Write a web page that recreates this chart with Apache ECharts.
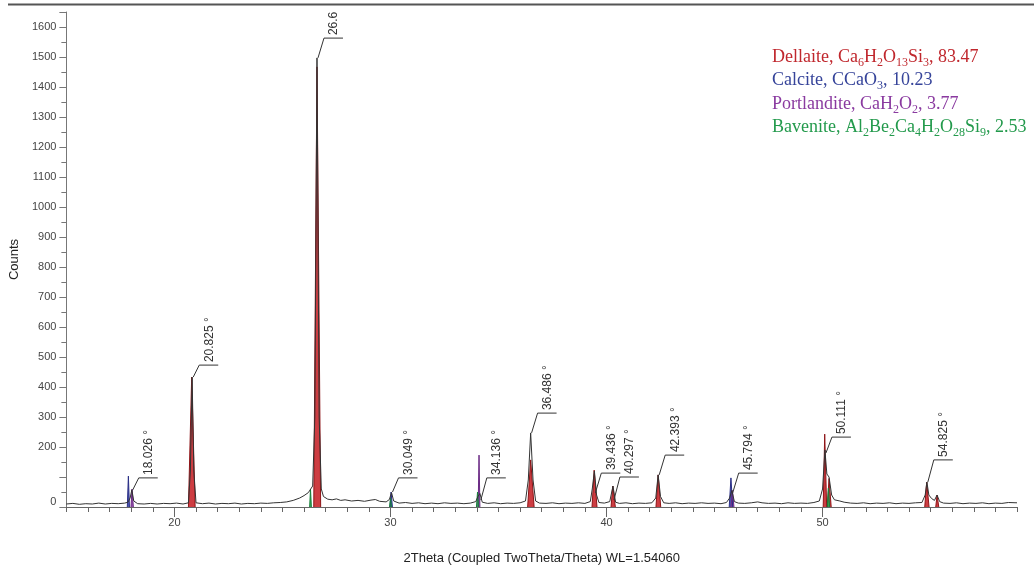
<!DOCTYPE html>
<html>
<head>
<meta charset="utf-8">
<script src="https://cdn.jsdelivr.net/npm/echarts@6/dist/echarts.min.js"></script>
<style>html,body{margin:0;padding:0;background:#fff}#c{width:1034px;height:571px}</style>
</head>
<body>
<div id="c"></div>
<script>
// ---- data ----
const xTickLabels = [20, 30, 40, 50];
const yHiddenLabels = [100];

// measured diffraction profile [2theta, counts]
const profile = [
[15.0,10],[15.3,12],[15.6,9],[15.9,11],[16.2,10],[16.5,13],[16.8,10],[17.1,12],[17.4,11],[17.7,13],[17.85,16],[17.95,30],[18.03,57],[18.12,20],[18.3,11],[18.6,10],[18.9,12],[19.2,10],[19.5,12],[19.8,11],[20.1,13],[20.4,10],[20.65,14],[20.74,120],[20.82,433],[20.9,120],[21.0,14],[21.3,11],[21.6,13],[21.9,10],[22.2,12],[22.5,11],[22.8,13],[23.1,10],[23.4,12],[23.7,11],[24.0,13],[24.3,12],[24.6,14],[24.9,15],[25.2,17],[25.5,22],[25.8,30],[26.0,38],[26.2,48],[26.4,70],[26.5,300],[26.6,1497],[26.7,300],[26.8,60],[26.9,35],[27.1,26],[27.3,24],[27.5,27],[27.7,22],[27.9,24],[28.2,20],[28.5,22],[28.8,19],[29.1,23],[29.3,25],[29.5,19],[29.8,17],[29.95,25],[30.05,48],[30.15,20],[30.4,13],[30.7,15],[31.0,12],[31.3,14],[31.6,11],[31.9,13],[32.2,11],[32.5,14],[32.8,12],[33.1,13],[33.4,11],[33.7,13],[33.95,18],[34.05,35],[34.14,45],[34.25,16],[34.5,12],[34.8,14],[35.1,11],[35.4,13],[35.7,12],[36.0,14],[36.25,20],[36.38,90],[36.49,247],[36.6,90],[36.72,20],[36.9,13],[37.2,12],[37.5,14],[37.8,11],[38.1,13],[38.4,12],[38.7,14],[39.0,12],[39.25,18],[39.34,60],[39.44,120],[39.54,40],[39.65,15],[39.9,13],[40.15,18],[40.3,70],[40.42,16],[40.6,12],[40.9,14],[41.2,11],[41.5,13],[41.8,12],[42.1,14],[42.28,30],[42.39,107],[42.5,35],[42.65,14],[42.9,12],[43.2,14],[43.5,11],[43.8,13],[44.1,12],[44.4,14],[44.7,12],[45.0,13],[45.3,11],[45.55,15],[45.7,30],[45.8,55],[45.92,18],[46.1,13],[46.4,12],[46.7,14],[47.0,17],[47.2,14],[47.5,12],[47.8,13],[48.1,11],[48.4,14],[48.7,12],[49.0,13],[49.3,12],[49.6,15],[49.85,20],[50.0,60],[50.11,190],[50.2,110],[50.3,100],[50.42,40],[50.55,24],[50.8,20],[51.0,16],[51.3,13],[51.6,12],[51.9,14],[52.2,11],[52.5,13],[52.8,12],[53.1,14],[53.4,11],[53.7,13],[54.0,12],[54.3,14],[54.6,15],[54.75,40],[54.83,83],[54.92,40],[55.05,28],[55.18,22],[55.3,40],[55.42,18],[55.6,13],[55.9,12],[56.2,14],[56.5,11],[56.8,13],[57.1,12],[57.4,14],[57.7,11],[58.0,13],[58.3,12],[58.6,15],[59.0,14]
];

// phase peaks: [left 2theta, apex 2theta, right 2theta, apex counts]
const dellaitePeaks = [
[20.65,20.80,20.96,433],[26.45,26.60,26.77,1467],[36.35,36.49,36.65,157],[39.33,39.43,39.56,123],
[40.21,40.29,40.41,70],[42.29,42.39,42.51,107],[50.03,50.10,50.19,243],[50.22,50.30,50.40,95],
[54.73,54.82,54.93,83],[55.24,55.30,55.38,40]
];
const calcitePeaks = [[17.82,17.87,17.92,103],[29.98,30.03,30.09,50],[45.68,45.76,45.84,97]];
const portlanditePeaks = [[17.99,18.04,18.10,60],[34.06,34.10,34.14,173],[45.76,45.83,45.90,55]];
const bavenitePeaks = [[26.26,26.30,26.34,60],[29.96,30.00,30.05,30],[33.98,34.03,34.08,50],[50.22,50.27,50.33,63]];

// peak annotations
const annoAngle = [18.026,20.825,26.6,30.049,34.136,36.486,39.436,40.297,42.393,45.794,50.111,54.825];
const annoText  = ['18.026 °','20.825 °','26.6','30.049 °','34.136 °','36.486 °','39.436 °','40.297 °','42.393 °','45.794 °','50.111 °','54.825 °'];
const annoFrom  = [57,433,1497,50,23,247,47,23,107,47,180,83];
const annoTo    = [97,473,1563,97,97,313,113,100,173,113,233,157];

// legend (phase, formula parts, percentage)
const phaseNames = ['Dellaite','Calcite','Portlandite','Bavenite'];
const phaseFormula = [
  [['Ca','6'],['H','2'],['O','13'],['Si','3']],
  [['CCaO','3']],
  [['CaH','2'],['O','2']],
  [['Al','2'],['Be','2'],['Ca','4'],['H','2'],['O','28'],['Si','9']]
];
const phasePct = ['83.47','10.23','3.77','2.53'];

// ---- build ----
const phaseColors = ['#c8282e','#3a44a6','#8c3fa3','#27a04e'];
const phaseEdge = ['#8e1518','#2a2f86','#6a2a84','#17803a'];
const legendColors = ['#c0272d','#36449a','#8a3aa0','#239a4c'];
const phasePeaks = [dellaitePeaks, calcitePeaks, portlanditePeaks, bavenitePeaks];

function peakData(peaks){
  const d = [];
  peaks.forEach(p => { d.push([p[0],0],[p[1],p[3]],[p[2],0],[p[2],'-']); });
  return d;
}

const chart = echarts.init(document.getElementById('c'), null, {renderer:'canvas'});
const serif = '"Liberation Serif","Times New Roman",serif';
const sans = '"Liberation Sans",Arial,sans-serif';

const rich = {};
legendColors.forEach((c,i)=>{
  rich['m'+i] = {fontFamily:serif, fontSize:18, lineHeight:23.5, fill:c};
  rich['s'+i] = {fontFamily:serif, fontSize:12, lineHeight:23.5, fill:c, verticalAlign:'bottom'};
});
const legendText = phaseNames.map((n,i)=>{
  let t = '{m'+i+'|'+n+', }';
  phaseFormula[i].forEach(part=>{ t += '{m'+i+'|'+part[0]+'}{s'+i+'|'+part[1]+'}'; });
  t += '{m'+i+'|, '+phasePct[i]+'}';
  return t;
}).join('\n');

const series = phasePeaks.map((pk,i)=>({
  type:'line', data: peakData(pk), symbol:'none', connectNulls:false, z:2,
  lineStyle:{color:phaseEdge[i], width:1}, areaStyle:{color:phaseColors[i], opacity:0.9},
  animation:false
}));
series.push({
  type:'line', data: profile, symbol:'none', z:3,
  lineStyle:{color:'#333', width:1}, animation:false
});
series.push({
  type:'custom', z:4, clip:false, animation:false,
  data: annoAngle.map((a,i)=>[a, annoFrom[i], annoTo[i]]),
  encode:{x:0, y:1},
  renderItem:(params, api)=>{
    const p0 = api.coord([api.value(0), api.value(1)]);
    const p1 = api.coord([api.value(0), api.value(2)]);
    const sx = p0[0] + 1, ex = sx + 6, hx = ex + 19;
    return {type:'group', children:[
      {type:'polyline', shape:{points:[[sx,p0[1]],[ex,p1[1]],[hx,p1[1]]]}, style:{stroke:'#333', fill:null, lineWidth:1}},
      {type:'text', x: ex + 10, y: p1[1] - 3, rotation: Math.PI/2,
       style:{text: annoText[params.dataIndex], font:'12px '+sans, fill:'#333', align:'left', verticalAlign:'middle'}}
    ]};
  }
});

chart.setOption({
  animation:false,
  backgroundColor:'#fff',
  grid:{left:66, right:17, top:12, bottom:64, containLabel:false},
  xAxis:[{
    type:'value', min:15, max:59, interval:1,
    name:'2Theta (Coupled TwoTheta/Theta) WL=1.54060', nameLocation:'middle', nameGap:45,
    nameTextStyle:{fontFamily:sans, fontSize:13, color:'#222'},
    axisLine:{show:true, onZero:false, lineStyle:{color:'#666', width:1}},
    axisTick:{show:true, length:5, lineStyle:{color:'#666'}},
    axisLabel:{customValues: xTickLabels, margin:10, fontFamily:sans, fontSize:11, color:'#444'},
    splitLine:{show:false}
  },{
    type:'value', min:15, max:59, position:'bottom', gridIndex:0,
    axisLine:{show:false},
    axisTick:{show:true, customValues: xTickLabels, length:10, lineStyle:{color:'#666'}},
    axisLabel:{show:false}, splitLine:{show:false}
  }],
  yAxis:{
    type:'value', min:0, max:1650, interval:100,
    name:'Counts', nameLocation:'middle', nameGap:37,
    nameTextStyle:{fontFamily:sans, fontSize:13, color:'#222'},
    axisLine:{show:true, lineStyle:{color:'#777', width:1}},
    axisTick:{show:true, length:7, lineStyle:{color:'#777'}},
    minorTick:{show:true, splitNumber:2, length:5, lineStyle:{color:'#777'}},
    axisLabel:{margin:10, fontFamily:sans, fontSize:11, color:'#444',
      formatter:v=> (v>1600 || yHiddenLabels.indexOf(v)>=0) ? '' : (v===0 ? '{z|0}' : String(v)),
      rich:{z:{padding:[0,0,10,0], fontFamily:sans, fontSize:11, color:'#444'}}},
    splitLine:{show:false}
  },
  graphic:[
    {type:'line', shape:{x1:8, y1:4.5, x2:1034, y2:4.5}, style:{stroke:'#555', lineWidth:2}},
    {type:'text', left:772, top:48, style:{text: legendText, rich: rich}}
  ],
  series: series
});
</script>
</body>
</html>
